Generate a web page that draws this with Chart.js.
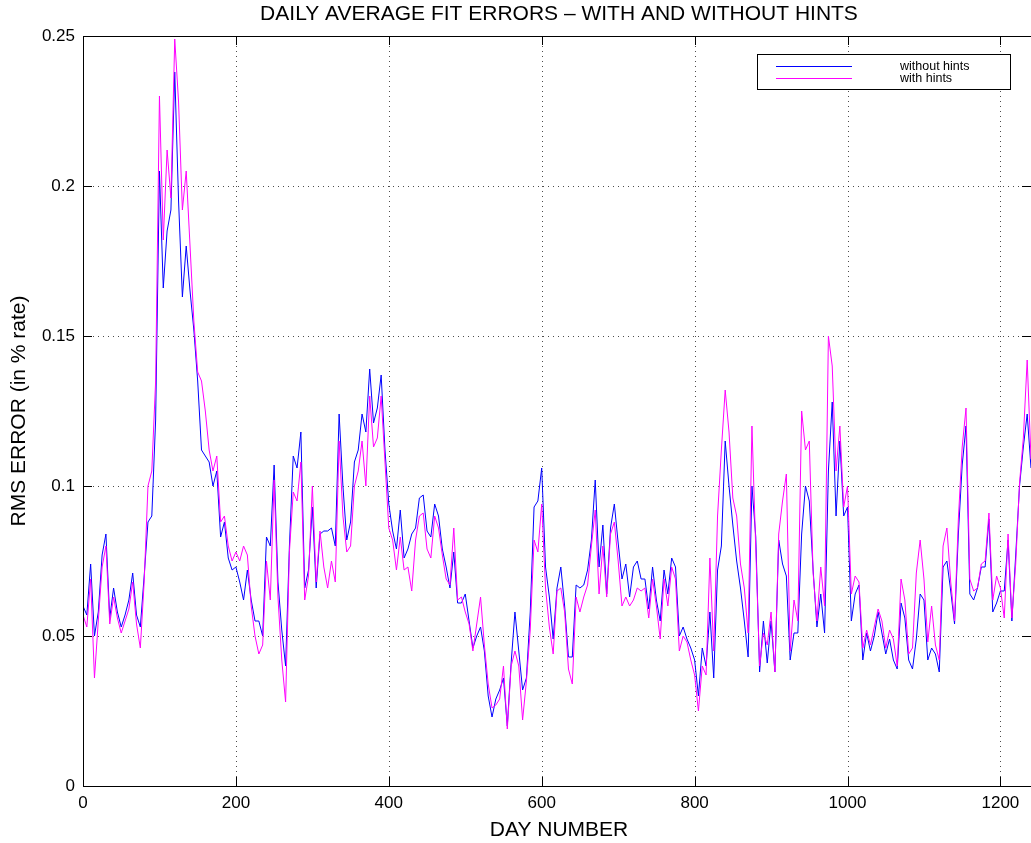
<!DOCTYPE html>
<html lang="en">
<head>
    <meta charset="UTF-8">
    <title>Daily Average Fit Errors</title>
    <script src="https://cdn.jsdelivr.net/npm/chart.js@4.4.1/dist/chart.umd.min.js"></script>
    <style>
        html, body {
            margin: 0;
            padding: 0;
            background: #fff;
            overflow: hidden;
        }
        #wrap {
            width: 1031px;
            height: 843px;
        }
    </style>
</head>
<body>
    <div id="wrap"><canvas id="fitChart" width="1031" height="843"></canvas></div>

    <script>
        // sampled every 5 days, starting at day 0
        const firstDay = 0;
        const dayStep = 5;

        const withoutHints = [
            .060,.057,.074,.050,.058,.077,.084,.056,.066,.058,
            .053,.057,.062,.071,.057,.053,.070,.088,.090,.122,
            .205,.166,.185,.192,.238,.195,.163,.180,.165,.152,
            .135,.112,.110,.108,.100,.105,.083,.088,.076,.072,
            .073,.068,.062,.072,.062,.055,.055,.050,.083,.080,
            .107,.068,.052,.040,.080,.110,.106,.118,.066,.072,
            .093,.066,.084,.085,.085,.086,.080,.124,.100,.082,
            .088,.108,.112,.124,.118,.139,.121,.126,.137,.112,
            .094,.085,.079,.092,.076,.079,.084,.086,.096,.097,
            .085,.083,.094,.090,.079,.073,.066,.078,.061,.061,
            .064,.055,.046,.050,.053,.045,.030,.023,.029,.032,
            .036,.020,.041,.058,.045,.032,.036,.058,.093,.095,
            .106,.073,.063,.049,.066,.073,.060,.043,.043,.067,
            .066,.067,.072,.082,.102,.073,.087,.064,.086,.094,
            .081,.069,.074,.063,.073,.075,.069,.069,.059,.073,
            .062,.055,.072,.064,.076,.073,.050,.053,.049,.046,
            .042,.030,.046,.040,.058,.036,.072,.080,.115,.100,
            .087,.075,.066,.055,.043,.100,.083,.038,.055,.041,
            .055,.038,.082,.074,.070,.042,.051,.051,.084,.100,
            .095,.072,.053,.064,.051,.105,.128,.090,.115,.090,
            .093,.055,.064,.067,.042,.051,.045,.050,.058,.051,
            .044,.049,.042,.039,.061,.056,.042,.039,.049,.064,
            .062,.042,.046,.044,.038,.073,.075,.065,.054,.084,
            .107,.120,.064,.062,.066,.073,.073,.089,.058,.061,
            .065,.065,.082,.055,.077,.100,.113,.124,.106
        ];

        const withHints = [
            .057,.053,.069,.036,.055,.073,.080,.054,.063,.056,
            .051,.055,.059,.068,.054,.046,.068,.100,.105,.135,
            .230,.182,.212,.196,.249,.228,.192,.205,.180,.155,
            .138,.135,.125,.112,.105,.110,.088,.090,.080,.075,
            .078,.075,.080,.077,.060,.050,.044,.047,.075,.062,
            .102,.063,.042,.028,.078,.098,.095,.108,.062,.070,
            .100,.068,.085,.073,.066,.075,.068,.115,.090,.078,
            .080,.100,.105,.115,.100,.130,.113,.116,.130,.108,
            .086,.082,.072,.083,.072,.073,.065,.082,.090,.091,
            .079,.076,.090,.086,.077,.069,.067,.086,.062,.063,
            .058,.054,.045,.054,.063,.047,.034,.026,.027,.029,
            .040,.019,.040,.045,.040,.022,.035,.052,.082,.078,
            .094,.066,.053,.044,.065,.066,.058,.039,.034,.063,
            .058,.063,.067,.080,.092,.064,.080,.063,.084,.088,
            .075,.060,.063,.060,.062,.066,.065,.066,.056,.069,
            .060,.049,.069,.060,.073,.069,.045,.050,.048,.042,
            .037,.025,.040,.037,.076,.045,.090,.112,.132,.118,
            .096,.090,.074,.066,.051,.120,.079,.040,.051,.047,
            .058,.038,.084,.095,.104,.045,.062,.055,.125,.112,
            .115,.071,.055,.073,.060,.150,.140,.105,.120,.093,
            .100,.064,.070,.068,.046,.052,.047,.053,.059,.055,
            .046,.052,.049,.040,.069,.062,.044,.046,.071,.082,
            .069,.048,.060,.047,.042,.080,.086,.068,.055,.089,
            .113,.126,.069,.065,.066,.074,.075,.091,.062,.070,
            .066,.056,.084,.056,.074,.101,.116,.142,.109
        ];

        const xTicks = [0, 200, 400, 600, 800, 1000, 1200];
        const yTicks = [0, 0.05, 0.1, 0.15, 0.2, 0.25];
        const xMax = 1240;

        const chartTitle = 'DAILY AVERAGE FIT ERRORS \u2013 WITH AND WITHOUT HINTS';
        const xTitle = 'DAY NUMBER';
        const yTitle = 'RMS ERROR (in % rate)';
        const seriesNames = ['without hints', 'with hints'];
        const seriesColors = ['#0000ff', '#ff00ff'];

        const FONT = '"Liberation Sans", Arial, Helvetica, sans-serif';

        function toPoints(values) {
            return values.map((v, i) => ({ x: firstDay + i * dayStep, y: v }));
        }

        // dotted grid under the lines
        const dottedGrid = {
            id: 'dottedGrid',
            beforeDatasetsDraw(chart) {
                const ctx = chart.ctx;
                const a = chart.chartArea;
                const xs = chart.scales.x, ys = chart.scales.y;
                ctx.save();
                ctx.strokeStyle = 'rgba(0,0,0,0.7)';
                ctx.lineWidth = 1;
                ctx.setLineDash([1, 4]);
                ctx.beginPath();
                xTicks.forEach(t => {
                    const px = Math.round(xs.getPixelForValue(t)) + 0.5;
                    ctx.moveTo(px, a.top); ctx.lineTo(px, a.bottom);
                });
                yTicks.forEach(t => {
                    const py = Math.round(ys.getPixelForValue(t)) + 0.5;
                    ctx.moveTo(a.left, py); ctx.lineTo(a.right, py);
                });
                ctx.stroke();
                ctx.restore();
            }
        };

        // frame, inward ticks, titles and the boxed legend
        const decorations = {
            id: 'decorations',
            afterDatasetsDraw(chart) {
                const ctx = chart.ctx;
                const a = chart.chartArea;
                const xs = chart.scales.x, ys = chart.scales.y;
                ctx.save();
                ctx.strokeStyle = '#000';
                ctx.lineWidth = 1;

                ctx.strokeRect(a.left + 0.5, a.top + 0.5, a.right - a.left, a.bottom - a.top);

                const tl = 9;
                ctx.beginPath();
                xTicks.forEach(t => {
                    const px = Math.round(xs.getPixelForValue(t)) + 0.5;
                    ctx.moveTo(px, a.bottom); ctx.lineTo(px, a.bottom - tl);
                    ctx.moveTo(px, a.top); ctx.lineTo(px, a.top + tl);
                });
                yTicks.forEach(t => {
                    const py = Math.round(ys.getPixelForValue(t)) + 0.5;
                    ctx.moveTo(a.left, py); ctx.lineTo(a.left + tl, py);
                    ctx.moveTo(a.right, py); ctx.lineTo(a.right - tl, py);
                });
                ctx.stroke();

                ctx.fillStyle = '#000';
                ctx.textAlign = 'center';
                ctx.textBaseline = 'middle';
                ctx.font = '21px ' + FONT;
                ctx.fillText(chartTitle, 559, 14);
                ctx.fillText(xTitle, 559, 830);
                ctx.save();
                ctx.translate(19, 411);
                ctx.rotate(-Math.PI / 2);
                ctx.fillText(yTitle, 0, 0);
                ctx.restore();

                // legend box
                const lx = 757, ly = 54, lw = 253, lh = 35;
                ctx.fillStyle = '#fff';
                ctx.fillRect(lx, ly, lw, lh);
                ctx.strokeRect(lx + 0.5, ly + 0.5, lw, lh);
                ctx.font = '12.5px ' + FONT;
                ctx.textAlign = 'left';
                seriesNames.forEach((name, i) => {
                    const yy = ly + 12 + i * 12;
                    ctx.strokeStyle = seriesColors[i];
                    ctx.beginPath();
                    ctx.moveTo(776, yy + 0.5);
                    ctx.lineTo(852, yy + 0.5);
                    ctx.stroke();
                    ctx.fillStyle = '#000';
                    ctx.fillText(name, 900, yy + 1);
                });
                ctx.restore();
            }
        };

        const ctx = document.getElementById('fitChart').getContext('2d');
        new Chart(ctx, {
            type: 'line',
            data: {
                datasets: [
                    {
                        label: seriesNames[0],
                        data: toPoints(withoutHints),
                        borderColor: seriesColors[0],
                        borderWidth: 1,
                        pointRadius: 0,
                        tension: 0,
                        order: 1
                    },
                    {
                        label: seriesNames[1],
                        data: toPoints(withHints),
                        borderColor: seriesColors[1],
                        borderWidth: 1,
                        pointRadius: 0,
                        tension: 0,
                        order: 0
                    }
                ]
            },
            options: {
                responsive: false,
                animation: false,
                layout: { padding: { top: 36, right: 0, left: 0, bottom: 0 } },
                plugins: {
                    legend: { display: false },
                    title: { display: false },
                    tooltip: { enabled: false }
                },
                scales: {
                    x: {
                        type: 'linear',
                        min: 0,
                        max: xMax,
                        afterBuildTicks: s => { s.ticks = xTicks.map(v => ({ value: v })); },
                        afterFit: s => { s.height = 57; },
                        border: { display: false },
                        grid: { display: false, drawTicks: false },
                        ticks: {
                            padding: 7,
                            color: '#000',
                            font: { family: FONT, size: 17 },
                            maxRotation: 0,
                            callback: v => String(v)
                        }
                    },
                    y: {
                        min: 0,
                        max: 0.25,
                        afterBuildTicks: s => { s.ticks = yTicks.map(v => ({ value: v })); },
                        afterFit: s => { s.width = 83; },
                        border: { display: false },
                        grid: { display: false, drawTicks: false },
                        ticks: {
                            padding: 8,
                            color: '#000',
                            font: { family: FONT, size: 17 },
                            callback: v => String(Math.round(v * 100) / 100)
                        }
                    }
                }
            },
            plugins: [dottedGrid, decorations]
        });
    </script>
</body>
</html>
